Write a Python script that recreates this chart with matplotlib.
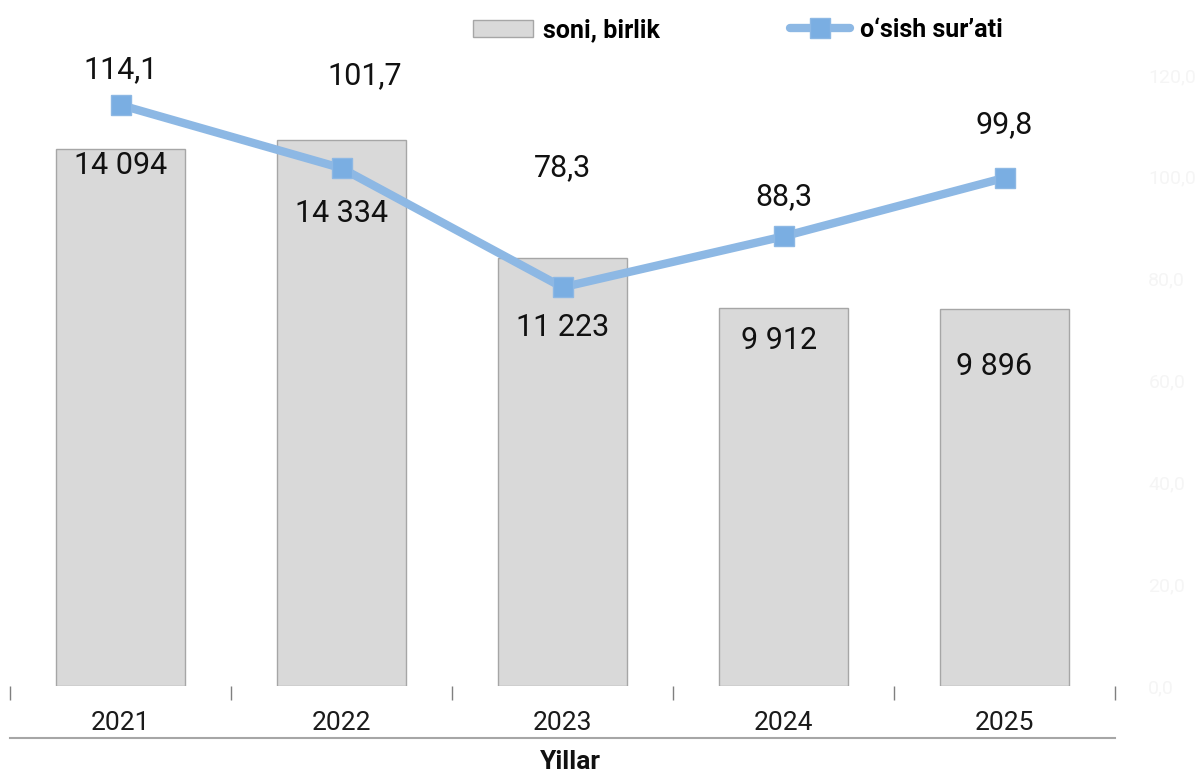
import matplotlib.pyplot as plt
import numpy as np

plt.rcParams['font.family'] = ['Roboto', 'DejaVu Sans']

years = ["2021", "2022", "2023", "2024", "2025"]
soni = [14094, 14334, 11223, 9912, 9896]
osish = [114.1, 101.7, 78.3, 88.3, 99.8]

soni_text = ["14 094", "14 334", "11 223", "9 912", "9 896"]
osish_text = ["114,1", "101,7", "78,3", "88,3", "99,8"]

# label offsets in pixels (dx, dy) relative to bar top / marker
bar_off = [(0, -16), (0, -74), (0, -69), (-4, -32), (-10, -57)]
line_off = [(0, 35), (23, 93), (0, 120), (0, 40), (0, 53)]

fig = plt.figure(figsize=(12, 7.73), dpi=100)
ax = fig.add_axes([10 / 1200, 1 - 686 / 773, 1105 / 1200, 611 / 773])
ax2 = ax.twinx()

x = np.arange(len(years))
ax.bar(x, soni, width=0.58, color="#d9d9d9", edgecolor="#a6a6a6", linewidth=1,
       label="soni, birlik", zorder=1)
ax.set_ylim(0, 16040)
ax.set_xlim(-0.5, len(years) - 0.5)
ax.set_yticks([])

ax2.plot(x, osish, color="#8db8e4", linewidth=6, marker="s", markersize=14,
         markerfacecolor="#7aaee2", markeredgecolor="#8db8e4",
         solid_capstyle="round", label="o‘sish sur’ati", zorder=3)
ax2.set_ylim(0, 120)
ax2.set_yticks(np.arange(0, 121, 20))
ax2.set_yticklabels([f"{v:.1f}".replace(".", ",") for v in np.arange(0, 121, 20)],
                    fontsize=14, color="#f5f5f5")
ax2.tick_params(axis="y", length=0, pad=24)

for a in (ax, ax2):
    for s in a.spines.values():
        s.set_visible(False)

ax.set_xticks(x)
ax.set_xticklabels(years, fontsize=19, color="#1a1a1a")
ax.tick_params(axis="x", length=0, pad=18)
ax.set_xticks(np.arange(-0.5, len(years)), minor=True)
ax.tick_params(axis="x", which="minor", length=10, width=1, color="#7f7f7f", direction="out")

ax.plot([0, 1], [-0.085, -0.085], transform=ax.transAxes, color="#a6a6a6",
        linewidth=1.5, clip_on=False)
fig.text(570 / 1200, 1 - 762 / 773, "Yillar", ha="center", va="center",
         fontsize=19, fontweight="bold", color="#111111")

for i, (v, t) in enumerate(zip(soni, soni_text)):
    ax.annotate(t, (x[i], v), xytext=(bar_off[i][0] * 0.72, bar_off[i][1] * 0.72),
                textcoords="offset points", ha="center", va="center",
                fontsize=22, color="#111111", zorder=5)

for i, (v, t) in enumerate(zip(osish, osish_text)):
    ax2.annotate(t, (x[i], v), xytext=(line_off[i][0] * 0.72, line_off[i][1] * 0.72),
                 textcoords="offset points", ha="center", va="center",
                 fontsize=22, color="#111111", zorder=5)

h1, l1 = ax.get_legend_handles_labels()
h2, l2 = ax2.get_legend_handles_labels()
fig.legend(h1 + h2, l1 + l2, loc="center", bbox_to_anchor=(0.615, 1 - 30 / 773),
           ncol=2, frameon=False, prop={"size": 18, "weight": "bold"},
           columnspacing=5.2, handlelength=2.4, handletextpad=0.4)

fig.savefig("out.png", dpi=100)
